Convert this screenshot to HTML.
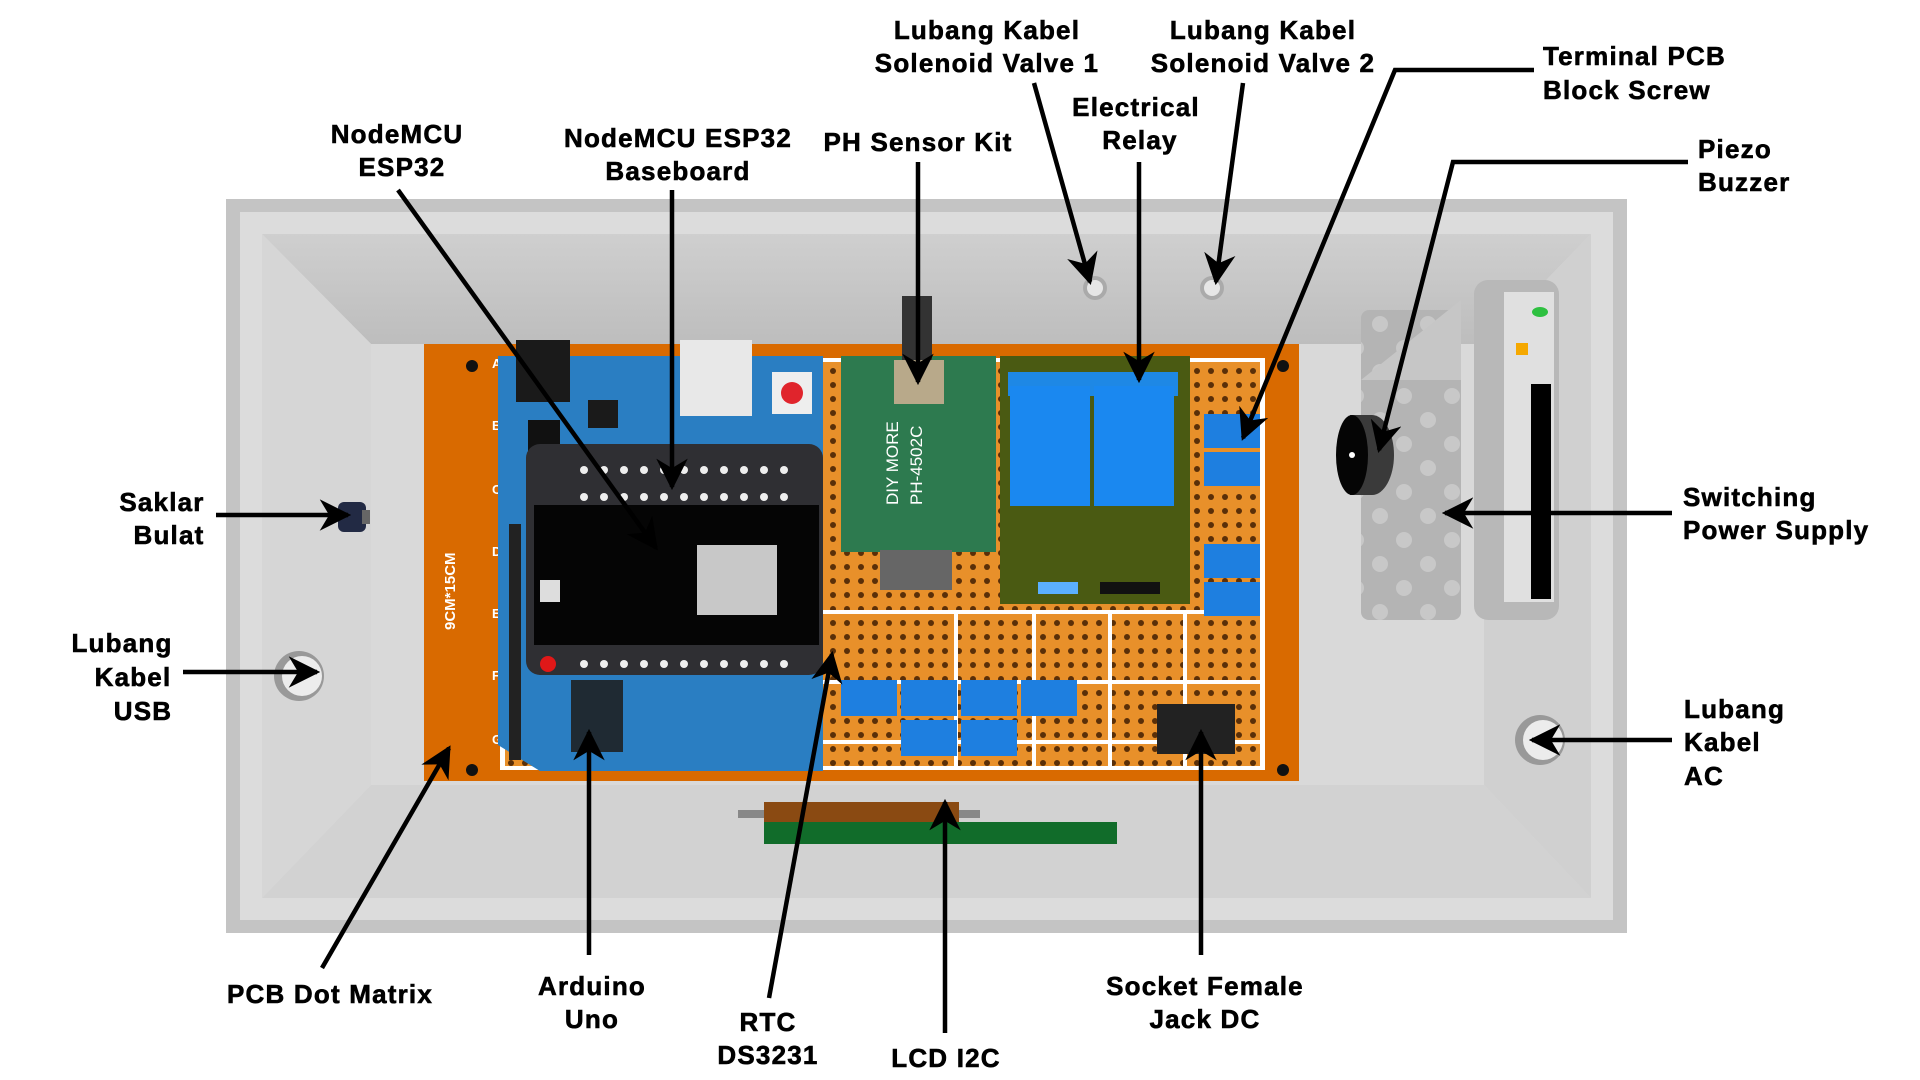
<!DOCTYPE html>
<html><head><meta charset="utf-8"><style>
html,body{margin:0;padding:0;background:#fff;width:1920px;height:1080px;overflow:hidden}
svg{display:block}
text{font-family:"Liberation Sans",sans-serif;font-weight:bold;font-size:26px;letter-spacing:1.2px;fill:#000;stroke:#000;stroke-width:0.6px}
</style></head><body>
<svg width="1920" height="1080" viewBox="0 0 1920 1080">
<defs>
<marker id="ah" viewBox="0 0 10 10" refX="9" refY="5" markerWidth="7" markerHeight="7" orient="auto" markerUnits="strokeWidth">
<path d="M0,0 L10,5 L0,10 L3,5 Z" fill="#000"/></marker>
<pattern id="perf" width="14" height="14" patternUnits="userSpaceOnUse">
<rect width="14" height="14" fill="#e8902a"/><circle cx="7" cy="7" r="3" fill="#5a2f08"/></pattern>
<pattern id="vent" width="48" height="48" patternUnits="userSpaceOnUse">
<rect width="48" height="48" fill="#b4b4b4"/><circle cx="12" cy="12" r="8" fill="#c8c8c8"/><circle cx="36" cy="36" r="8" fill="#c8c8c8"/></pattern>
<linearGradient id="topg" x1="0" y1="0" x2="0" y2="1"><stop offset="0" stop-color="#cfcfcf"/><stop offset="1" stop-color="#bdbdbd"/></linearGradient>
</defs>
<rect x="226" y="199" width="1401" height="734" fill="#c4c4c4"/>
<rect x="240" y="212" width="1373" height="708" fill="#dcdcdc"/>
<polygon points="262,234 1591,234 1484,344 371,344" fill="url(#topg)"/>
<polygon points="262,898 1591,898 1484,785 371,785" fill="#d2d2d2"/>
<polygon points="262,234 371,344 371,785 262,898" fill="#d6d6d6"/>
<polygon points="1591,234 1484,344 1484,785 1591,898" fill="#d0d0d0"/>
<rect x="371" y="344" width="1113" height="441" fill="#d9d9d9"/>
<circle cx="1095" cy="288" r="12" fill="#aaa"/><circle cx="1095" cy="288" r="8" fill="#e6e6e6"/>
<circle cx="1212" cy="288" r="12" fill="#aaa"/><circle cx="1212" cy="288" r="8" fill="#e6e6e6"/>
<circle cx="299" cy="676" r="25" fill="#999"/><circle cx="302" cy="676" r="20" fill="#ececec"/>
<circle cx="1540" cy="740" r="25" fill="#999"/><circle cx="1543" cy="740" r="20" fill="#ececec"/>
<rect x="338" y="502" width="28" height="30" rx="6" fill="#222a44"/><rect x="362" y="510" width="8" height="14" fill="#666"/>
<rect x="738" y="810" width="242" height="8" fill="#888"/>
<rect x="764" y="802" width="195" height="20" fill="#8a4a12"/>
<rect x="764" y="822" width="353" height="22" fill="#116c2a"/>
<rect x="424" y="344" width="875" height="437" fill="#d96a00"/>
<circle cx="472" cy="366" r="6" fill="#111"/><circle cx="472" cy="770" r="6" fill="#111"/>
<circle cx="1283" cy="366" r="6" fill="#111"/><circle cx="1283" cy="770" r="6" fill="#111"/>
<text x="455" y="630" transform="rotate(-90 455 630)" style="font-size:15px;fill:#fff;stroke:none;letter-spacing:0">9CM*15CM</text>
<g>
<text x="492" y="368" style="font-size:13px;fill:#fff;stroke:none">A</text><text x="492" y="430" style="font-size:13px;fill:#fff;stroke:none">B</text>
<text x="492" y="494" style="font-size:13px;fill:#fff;stroke:none">C</text><text x="492" y="556" style="font-size:13px;fill:#fff;stroke:none">D</text>
<text x="492" y="618" style="font-size:13px;fill:#fff;stroke:none">E</text><text x="492" y="680" style="font-size:13px;fill:#fff;stroke:none">F</text>
<text x="492" y="744" style="font-size:13px;fill:#fff;stroke:none">G</text></g>
<rect x="500" y="358" width="765" height="412" fill="#fff"/>
<rect x="505" y="362" width="755" height="404" fill="url(#perf)"/>
<g stroke="#fff" stroke-width="4">
<line x1="823" y1="612" x2="1262" y2="612"/><line x1="823" y1="682" x2="1262" y2="682"/><line x1="823" y1="742" x2="1262" y2="742"/>
<line x1="956" y1="612" x2="956" y2="766"/><line x1="1034" y1="612" x2="1034" y2="766"/><line x1="1110" y1="612" x2="1110" y2="766"/><line x1="1185" y1="612" x2="1185" y2="766"/></g>
<path d="M498,356 H823 V771 H540 L498,745 Z" fill="#2a7ec2"/>
<rect x="516" y="340" width="54" height="62" fill="#1a1a1a"/>
<rect x="680" y="340" width="72" height="76" fill="#e8e8e8"/>
<rect x="772" y="372" width="40" height="42" fill="#eee"/><circle cx="792" cy="393" r="11" fill="#e0242c"/>
<rect x="588" y="400" width="30" height="28" fill="#1a1a1a"/>
<rect x="509" y="524" width="12" height="150" fill="#222"/><rect x="509" y="660" width="12" height="100" fill="#222"/>
<rect x="571" y="680" width="52" height="72" fill="#1f2a33"/>
<rect x="528" y="420" width="32" height="80" fill="#111"/>
<rect x="526" y="444" width="297" height="231" rx="14" fill="#2f2f33"/>
<g fill="#eee"><circle cx="584" cy="470" r="4"/><circle cx="604" cy="470" r="4"/><circle cx="624" cy="470" r="4"/><circle cx="644" cy="470" r="4"/><circle cx="664" cy="470" r="4"/><circle cx="684" cy="470" r="4"/><circle cx="704" cy="470" r="4"/><circle cx="724" cy="470" r="4"/><circle cx="744" cy="470" r="4"/><circle cx="764" cy="470" r="4"/><circle cx="784" cy="470" r="4"/>
<circle cx="584" cy="497" r="4"/><circle cx="604" cy="497" r="4"/><circle cx="624" cy="497" r="4"/><circle cx="644" cy="497" r="4"/><circle cx="664" cy="497" r="4"/><circle cx="684" cy="497" r="4"/><circle cx="704" cy="497" r="4"/><circle cx="724" cy="497" r="4"/><circle cx="744" cy="497" r="4"/><circle cx="764" cy="497" r="4"/><circle cx="784" cy="497" r="4"/>
<circle cx="584" cy="664" r="4"/><circle cx="604" cy="664" r="4"/><circle cx="624" cy="664" r="4"/><circle cx="644" cy="664" r="4"/><circle cx="664" cy="664" r="4"/><circle cx="684" cy="664" r="4"/><circle cx="704" cy="664" r="4"/><circle cx="724" cy="664" r="4"/><circle cx="744" cy="664" r="4"/><circle cx="764" cy="664" r="4"/><circle cx="784" cy="664" r="4"/></g>
<circle cx="548" cy="664" r="8" fill="#e01818"/>
<rect x="534" y="505" width="285" height="140" fill="#050505"/>
<rect x="697" y="545" width="80" height="70" fill="#c8c8c8"/>
<rect x="540" y="580" width="20" height="22" fill="#ddd"/>
<rect x="841" y="356" width="155" height="196" fill="#2d7a4f"/>
<rect x="894" y="360" width="50" height="44" fill="#b8a98a"/>
<rect x="902" y="296" width="30" height="64" fill="#333"/>
<text x="898" y="505" transform="rotate(-90 898 505)" style="font-size:17px;font-weight:normal;fill:#fff;stroke:none;letter-spacing:0">DIY MORE</text>
<text x="922" y="505" transform="rotate(-90 922 505)" style="font-size:17px;font-weight:normal;fill:#fff;stroke:none;letter-spacing:0">PH-4502C</text>
<rect x="880" y="550" width="72" height="40" fill="#666"/>
<rect x="1000" y="356" width="190" height="248" fill="#4a5a12"/>
<rect x="1008" y="372" width="170" height="24" fill="#1e88e5"/>
<rect x="1010" y="386" width="80" height="120" fill="#1a88f0"/>
<rect x="1094" y="386" width="80" height="120" fill="#1a88f0"/>
<rect x="1038" y="582" width="40" height="12" fill="#5bb0ff"/>
<rect x="1100" y="582" width="60" height="12" fill="#111"/>
<g fill="#1e7fe0">
<rect x="1204" y="414" width="56" height="34"/><rect x="1204" y="452" width="56" height="34"/>
<rect x="1204" y="544" width="56" height="34"/><rect x="1204" y="582" width="56" height="34"/>
<rect x="841" y="680" width="56" height="36"/><rect x="901" y="680" width="56" height="36"/><rect x="961" y="680" width="56" height="36"/><rect x="1021" y="680" width="56" height="36"/>
<rect x="901" y="720" width="56" height="36"/><rect x="961" y="720" width="56" height="36"/></g>
<rect x="1157" y="704" width="78" height="50" fill="#222"/>
<rect x="1361" y="310" width="100" height="310" rx="8" fill="url(#vent)"/>
<polygon points="1361,380 1461,300 1461,380" fill="#c6c6c6"/>
<rect x="1474" y="280" width="85" height="340" rx="14" fill="#b8b8b8"/>
<rect x="1504" y="292" width="50" height="310" fill="#e0e0e0"/>
<ellipse cx="1540" cy="312" rx="8" ry="5" fill="#2ec040"/>
<rect x="1516" y="343" width="12" height="12" fill="#f5a800"/>
<rect x="1531" y="384" width="20" height="215" fill="#000"/>
<ellipse cx="1372" cy="455" rx="22" ry="40" fill="#3a3a3a"/><rect x="1350" y="415" width="22" height="80" fill="#3a3a3a"/>
<ellipse cx="1352" cy="455" rx="16" ry="40" fill="#050505"/><circle cx="1352" cy="455" r="3" fill="#fff"/>
<g stroke="#000" stroke-width="4.5" fill="none" marker-end="url(#ah)">
<line x1="398" y1="190" x2="656" y2="548"/>
<line x1="672" y1="190" x2="672" y2="487"/>
<line x1="918" y1="162" x2="918" y2="382"/>
<line x1="1034" y1="83" x2="1090" y2="282"/>
<line x1="1243" y1="83" x2="1216" y2="282"/>
<line x1="1139" y1="162" x2="1139" y2="380"/>
<polyline points="1534,70 1395,70 1243,438"/>
<polyline points="1688,162 1453,162 1379,450"/>
<line x1="216" y1="515" x2="348" y2="515"/>
<line x1="183" y1="672" x2="317" y2="672"/>
<line x1="1672" y1="513" x2="1445" y2="513"/>
<line x1="1672" y1="740" x2="1532" y2="740"/>
<line x1="322" y1="968" x2="449" y2="748"/>
<line x1="589" y1="955" x2="589" y2="732"/>
<line x1="769" y1="998" x2="832" y2="654"/>
<line x1="945" y1="1033" x2="945" y2="802"/>
<line x1="1201" y1="955" x2="1201" y2="732"/>
</g>
<g text-anchor="middle">
<text x="987" y="39">Lubang Kabel</text><text x="987" y="72">Solenoid Valve 1</text>
<text x="1263" y="39">Lubang Kabel</text><text x="1263" y="72">Solenoid Valve 2</text>
<text x="1136" y="116">Electrical</text><text x="1140" y="149">Relay</text>
<text x="397" y="143">NodeMCU</text><text x="402" y="176">ESP32</text>
<text x="678" y="147">NodeMCU ESP32</text><text x="678" y="180">Baseboard</text>
<text x="918" y="151">PH Sensor Kit</text>
<text x="162" y="511">Saklar</text><text x="169" y="544">Bulat</text>
<text x="122" y="652">Lubang</text><text x="133" y="686">Kabel</text><text x="143" y="720">USB</text>
<text x="330" y="1003">PCB Dot Matrix</text>
<text x="592" y="995">Arduino</text><text x="592" y="1028">Uno</text>
<text x="768" y="1031">RTC</text><text x="768" y="1064">DS3231</text>
<text x="946" y="1067">LCD I2C</text>
<text x="1205" y="995">Socket Female</text><text x="1205" y="1028">Jack DC</text>
</g>
<text x="1543" y="65">Terminal PCB</text><text x="1543" y="99">Block Screw</text>
<text x="1698" y="158">Piezo</text><text x="1698" y="191">Buzzer</text>
<text x="1683" y="506">Switching</text><text x="1683" y="539">Power Supply</text>
<text x="1684" y="718">Lubang</text><text x="1684" y="751">Kabel</text><text x="1684" y="785">AC</text>
</svg>
</body></html>
